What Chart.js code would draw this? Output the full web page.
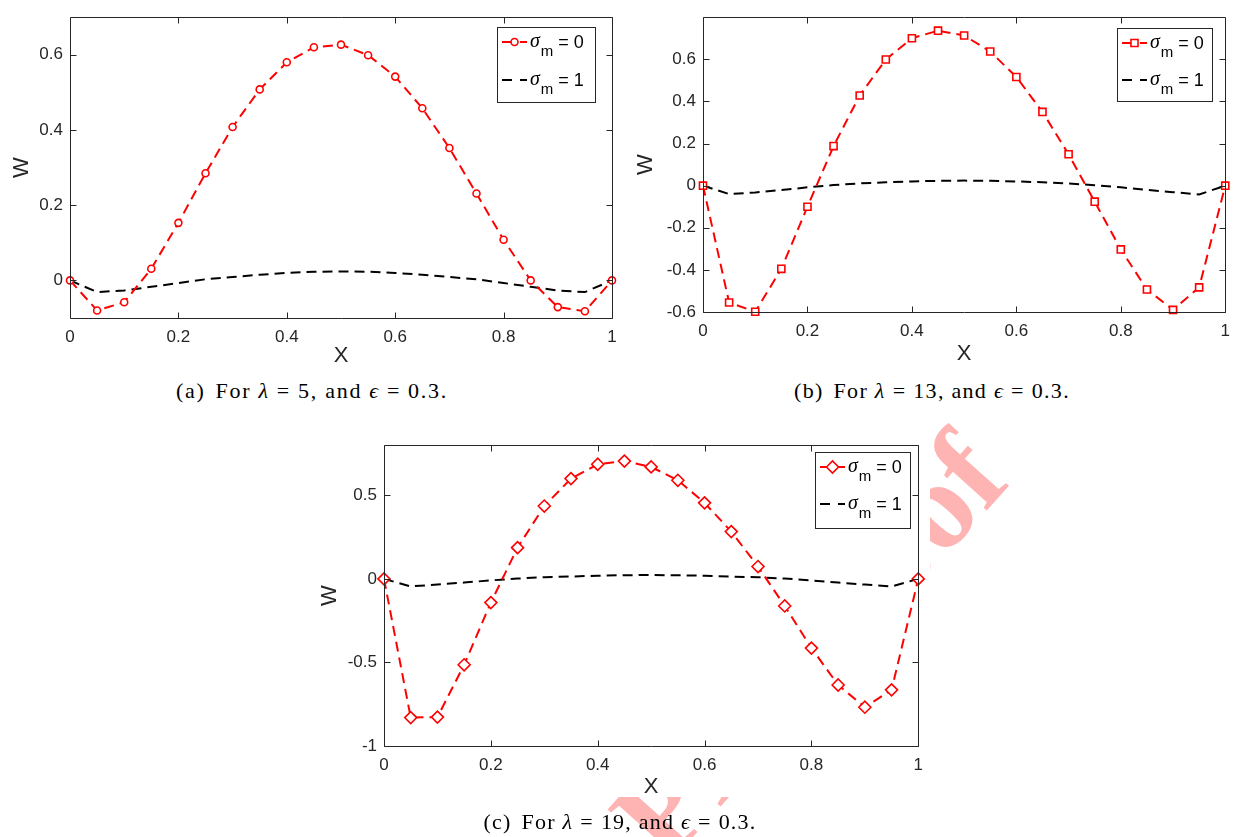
<!DOCTYPE html>
<html><head><meta charset="utf-8">
<script src="https://cdn.jsdelivr.net/npm/chart.js@4"></script>
<style>
html,body{margin:0;padding:0;background:#fff;}
#page{position:relative;width:1239px;height:837px;overflow:hidden;background:#fff;}
.wm{position:absolute;left:0;top:0;font-family:"Liberation Serif","DejaVu Serif",serif;font-weight:bold;font-size:125px;line-height:125px;white-space:nowrap;color:rgb(255,180,180);transform-origin:0 0;z-index:1;}
.mask{position:absolute;background:#fff;z-index:2;}
canvas{position:absolute;z-index:3;}
.cap{position:absolute;z-index:4;font-family:"Liberation Serif","DejaVu Serif",serif;font-size:22px;line-height:22px;white-space:nowrap;color:#000;}
.cap i{font-style:italic;}
.cap .eq{margin:0 7px;}
.cap .lab{margin-right:10px;}
</style></head>
<body>
<div id="page">
  <div class="wm" id="wm">Journal Pre-proof</div>
  <div class="mask" style="left:0;top:0;width:628px;height:372px"></div>
  <div class="mask" style="left:628px;top:0;width:611px;height:372px"></div>
  <div class="mask" style="left:322px;top:428px;width:608px;height:369px"></div>
  <canvas id="cA" width="628" height="372" style="left:0;top:0"></canvas>
  <canvas id="cB" width="611" height="372" style="left:628px;top:0"></canvas>
  <canvas id="cC" width="632" height="390" style="left:300px;top:428px"></canvas>
  <div class="cap" id="capA" data-cx="312" data-w="272" style="top:380px"></div>
  <div class="cap" id="capB" data-cx="932" data-w="276" style="top:380px"></div>
  <div class="cap" id="capC" data-cx="620" data-w="273" style="top:811px"></div>
</div>
<script>
// ---------- data ----------
const xValues = [0,0.05,0.1,0.15,0.2,0.25,0.3,0.35,0.4,0.45,0.5,0.55,0.6,0.65,0.7,0.75,0.8,0.85,0.9,0.95,1];
const xTicks = [0,0.2,0.4,0.6,0.8,1];

const seriesLabels = ['σm = 0','σm = 1'];

const aSigma0 = [0,-0.080,-0.058,0.031,0.153,0.285,0.408,0.508,0.580,0.620,0.627,0.599,0.542,0.458,0.352,0.231,0.108,0.000,-0.071,-0.082,0];
const aSigma1 = [0,-0.031,-0.027,-0.017,-0.007,0.003,0.009,0.015,0.020,0.023,0.024,0.023,0.020,0.015,0.009,0.003,-0.007,-0.017,-0.027,-0.031,0];
const aYTicks = [0,0.2,0.4,0.6];

const bSigma0 = [0,-0.555,-0.599,-0.395,-0.100,0.188,0.428,0.599,0.700,0.736,0.713,0.637,0.516,0.350,0.149,-0.076,-0.303,-0.493,-0.590,-0.483,0];
const bSigma1 = [0,-0.040,-0.032,-0.021,-0.008,0.003,0.011,0.016,0.020,0.023,0.024,0.023,0.020,0.016,0.010,0.002,-0.008,-0.020,-0.031,-0.042,0];
const bYTicks = [-0.6,-0.4,-0.2,0,0.2,0.4,0.6];

const cSigma0 = [0,-0.830,-0.827,-0.514,-0.142,0.187,0.436,0.600,0.686,0.705,0.670,0.590,0.455,0.283,0.074,-0.162,-0.414,-0.635,-0.768,-0.664,0];
const cSigma1 = [0,-0.045,-0.034,-0.022,-0.009,0.002,0.010,0.014,0.019,0.022,0.023,0.022,0.019,0.014,0.010,0.002,-0.009,-0.022,-0.034,-0.045,0];
const cYTicks = [-1,-0.5,0,0.5];

const captionLabels = ['(a)','(b)','(c)'];
const lambdaValues = ['5','13','19'];
const epsValue = '0.3';

// ---------- captions ----------
['capA','capB','capC'].forEach((id,i)=>{
  const el = document.getElementById(id);
  el.innerHTML = '<span class="lab">' + captionLabels[i] + '</span>For <i>λ</i><span class="eq">=</span>' + lambdaValues[i] +
                 ', and <i>ϵ</i><span class="eq">=</span>' + epsValue + '.';
  const target = +el.dataset.w;
  const natural = el.getBoundingClientRect().width;
  const n = el.textContent.length;
  el.style.letterSpacing = ((target - natural) / n).toFixed(2) + 'px';
  const w = el.getBoundingClientRect().width;
  el.style.left = (+el.dataset.cx - w/2) + 'px';
});

// watermark placement
document.getElementById('wm').style.transform = 'translate(290px,1129px) rotate(-48deg)';

// ---------- plugins ----------
const AX = '#262626';
const matlabBox = {
  id:'matlabBox',
  afterDatasetsDraw(chart){
    const {ctx, chartArea:a, scales:{x,y}} = chart;
    ctx.save();
    ctx.strokeStyle = AX; ctx.lineWidth = 1; ctx.setLineDash([]);
    const L=Math.round(a.left)+0.5, R=Math.round(a.right)+0.5, T=Math.round(a.top)+0.5, B=Math.round(a.bottom)+0.5;
    ctx.beginPath();
    ctx.rect(L,T,R-L,B-T);
    const tl = 6;
    x.ticks.forEach(t=>{const p=Math.round(x.getPixelForValue(t.value))+0.5; ctx.moveTo(p,B); ctx.lineTo(p,B-tl); ctx.moveTo(p,T); ctx.lineTo(p,T+tl);});
    y.ticks.forEach(t=>{const p=Math.round(y.getPixelForValue(t.value))+0.5; ctx.moveTo(L,p); ctx.lineTo(L+tl,p); ctx.moveTo(R,p); ctx.lineTo(R-tl,p);});
    ctx.stroke();
    ctx.restore();
  }
};

const matlabLegend = {
  id:'matlabLegend',
  afterDraw(chart, args, o){
    if(!o || !o.box) return;
    const ctx = chart.ctx; const b = o.box;
    ctx.save();
    ctx.fillStyle='#fff'; ctx.fillRect(b.x,b.y,b.w,b.h);
    ctx.strokeStyle=AX; ctx.lineWidth=1; ctx.setLineDash([]);
    ctx.strokeRect(b.x+0.5,b.y+0.5,b.w,b.h);
    chart.data.datasets.forEach((ds,i)=>{
      const cy = b.y + o.rows[i];
      const x0 = b.x + 5, len = 25;
      ctx.save();
      ctx.strokeStyle = ds.borderColor; ctx.lineWidth = ds.borderWidth;
      ctx.setLineDash([10,8]);
      ctx.beginPath(); ctx.moveTo(x0,cy); ctx.lineTo(x0+len,cy); ctx.stroke();
      ctx.restore();
      if (ds.pointRadius > 0) {
        ctx.save();
        ctx.strokeStyle = ds.pointBorderColor; ctx.fillStyle = ds.pointBackgroundColor; ctx.lineWidth = ds.pointBorderWidth;
        Chart.helpers.drawPoint(ctx, {pointStyle: ds.pointStyle, radius: ds.pointRadius, rotation:0, borderWidth: ds.pointBorderWidth}, x0+len/2, cy);
        ctx.restore();
      }
      const lab = seriesLabels[i];
      const val = lab.split('=')[1].trim();
      let tx = x0 + len + 3;
      ctx.fillStyle = '#000'; ctx.textBaseline='alphabetic'; ctx.textAlign='left';
      ctx.font = 'italic 20px "Liberation Serif", "DejaVu Serif", serif';
      ctx.fillText('σ', tx, cy+5);
      tx += ctx.measureText('σ').width + 1;
      ctx.font = '15px "Liberation Sans", Arial, sans-serif';
      ctx.fillText('m', tx, cy+14);
      tx += ctx.measureText('m').width;
      ctx.font = '18px "Liberation Sans", Arial, sans-serif';
      ctx.fillText(' = ' + val, tx, cy+6);
    });
    ctx.restore();
  }
};

function fmt(v){ return String(Math.round(v*100)/100); }

function buildChart(id, s0, s1, yTicks, c){
  const tickFont = {family:'"Liberation Sans", Arial, sans-serif', size:17};
  const titleFont = {family:'"Liberation Sans", Arial, sans-serif', size:22};
  return new Chart(document.getElementById(id), {
    type:'line',
    data:{ datasets:[
      {label:seriesLabels[0], data:xValues.map((x,i)=>({x, y:s0[i]})), borderColor:'#ff0000', borderWidth:2, borderDash:[10,6],
       pointStyle:c.marker, pointRadius:c.markerR, pointBorderWidth:1.6, pointBackgroundColor:'#ffffff', pointBorderColor:'#ff0000', tension:0, clip:false, fill:false},
      {label:seriesLabels[1], data:xValues.map((x,i)=>({x, y:s1[i]})), borderColor:'#000000', borderWidth:2, borderDash:[10,6],
       pointRadius:0, tension:0, clip:false, fill:false}
    ]},
    options:{
      responsive:false, animation:false, events:[],
      layout:{padding:{left:0, top:c.padTop, right:c.padRight, bottom:0}},
      plugins:{legend:{display:false}, tooltip:{enabled:false}, matlabLegend:{box:c.legend, rows:c.rows}},
      scales:{
        x:{type:'linear', min:0, max:1,
           afterBuildTicks:s=>{ s.ticks = xTicks.map(v=>({value:v})); },
           afterFit:s=>{ s.height = c.xH; },
           grid:{display:false, drawTicks:false}, border:{display:false},
           ticks:{font:tickFont, color:AX, padding:c.xTickPad, maxRotation:0, autoSkip:false, callback:v=>fmt(v)},
           title:{display:true, text:'X', font:titleFont, color:AX, padding:{top:0, bottom:c.xTitlePad}}},
        y:{type:'linear', min:c.yMin, max:c.yMax,
           afterBuildTicks:s=>{ s.ticks = yTicks.map(v=>({value:v})); },
           afterFit:s=>{ s.width = c.yW; },
           grid:{display:false, drawTicks:false}, border:{display:false},
           ticks:{font:tickFont, color:AX, padding:7, autoSkip:false, callback:v=>fmt(v)},
           title:{display:true, text:'W', font:titleFont, color:AX, padding:{top:c.yTitlePad, bottom:0}}}
      }
    },
    plugins:[matlabBox, matlabLegend]
  });
}

buildChart('cA', aSigma0, aSigma1, aYTicks, {
  marker:'circle', markerR:3.5, yMin:-0.1, yMax:0.7,
  padTop:8, padRight:16, xH:54, yW:70, xTickPad:9, xTitlePad:3, yTitlePad:9,
  legend:{x:497, y:27, w:98, h:75}, rows:[15,53]
});
buildChart('cB', bSigma0, bSigma1, bYTicks, {
  marker:'rect', markerR:5, yMin:-0.6, yMax:0.8,
  padTop:9, padRight:4, xH:60, yW:75, xTickPad:9, xTitlePad:5, yTitlePad:5,
  legend:{x:489, y:28, w:95, h:73}, rows:[15,52]
});
buildChart('cC', cSigma0, cSigma1, cYTicks, {
  marker:'rectRot', markerR:6, yMin:-1, yMax:0.8,
  padTop:9, padRight:7, xH:72, yW:84, xTickPad:9, xTitlePad:18, yTitlePad:17,
  legend:{x:515, y:24, w:95, h:76}, rows:[15,52]
});
</script>
</body></html>
